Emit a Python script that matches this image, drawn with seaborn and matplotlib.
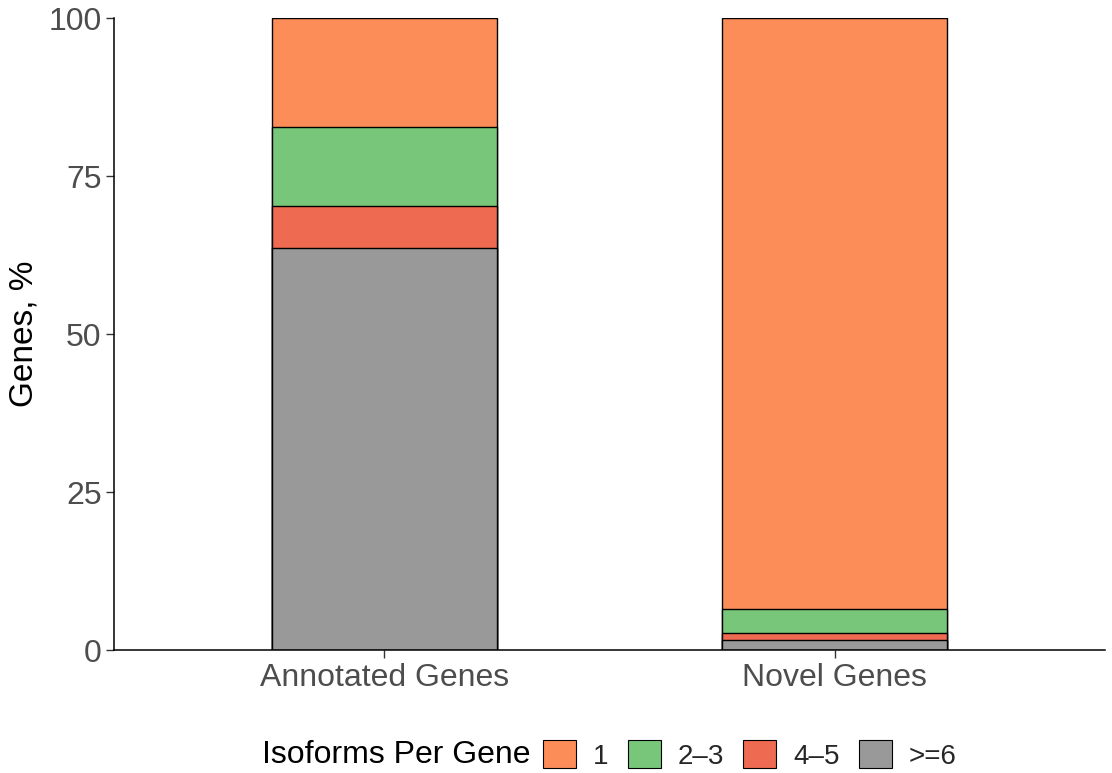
import matplotlib
matplotlib.use("Agg")
import matplotlib.pyplot as plt
from matplotlib.patches import Patch
import seaborn as sns
import pandas as pd
import numpy as np

# 数据：每个类别中不同isoform数量的基因百分比
categories = ["Annotated Genes", "Novel Genes"]
iso_levels = ["1", "2\u20133", "4\u20135", ">=6"]
pct_1 = [17.25, 93.5]
pct_2_3 = [12.5, 3.75]
pct_4_5 = [6.65, 1.15]
pct_6plus = [63.6, 1.6]

colors = ["#FC8D59", "#78C679", "#EE6A50", "#999999"]

sns.set_theme(style="white")
plt.rcParams['font.family'] = ['Liberation Sans', 'DejaVu Sans']

# 堆叠：从底部 >=6 开始累加
stack = np.array([pct_6plus, pct_4_5, pct_2_3, pct_1])
cum = np.cumsum(stack, axis=0)  # 行: >=6, +4-5, +2-3, +1
df = pd.DataFrame({"category": categories})

fig = plt.figure(figsize=(11.12, 7.73), dpi=100)
ax = fig.add_axes([114 / 1112, 1 - 650 / 773, (1105 - 114) / 1112, (650 - 18) / 773])

# 先画最高的累计值，再依次覆盖
order = [3, 2, 1, 0]  # cum 索引
col_for = {3: colors[0], 2: colors[1], 1: colors[2], 0: colors[3]}
for i in order:
    df["val"] = cum[i]
    sns.barplot(data=df, x="category", y="val", color=col_for[i], saturation=1,
                width=0.5, edgecolor="black", linewidth=1.0, ax=ax, errorbar=None)

ax.set_xlim(-0.6, 1.6)
ax.set_ylim(0, 100)
ax.set_yticks([0, 25, 50, 75, 100])
ax.set_xlabel("")
ax.set_ylabel("Genes, %", fontsize=24, color="black", labelpad=6)
ax.tick_params(axis="both", labelsize=23, labelcolor="#4D4D4D", color="#333333",
               length=6, width=1.0, direction="out", bottom=True, left=True)
ax.tick_params(axis="x", pad=3)
ax.tick_params(axis="y", pad=3)
for s in ["top", "right"]:
    ax.spines[s].set_visible(False)
for s in ["left", "bottom"]:
    ax.spines[s].set_color("black")
    ax.spines[s].set_linewidth(1.1)

# 图例：标题放在左侧
handles = [Patch(facecolor=c, edgecolor="black", linewidth=0.8) for c in colors]
fig.text(262 / 1112, 1 - 755 / 773, "Isoforms Per Gene", fontsize=23,
         ha="left", va="center", color="black")
fig.legend(handles, iso_levels, loc="center left", bbox_to_anchor=(543 / 1112, 1 - 755 / 773),
           ncol=4, frameon=False, fontsize=20, handlelength=1.19, handleheight=1.15,
           handletextpad=0.6, columnspacing=0.7, borderpad=0, borderaxespad=0)

fig.savefig("out.png", dpi=100)
